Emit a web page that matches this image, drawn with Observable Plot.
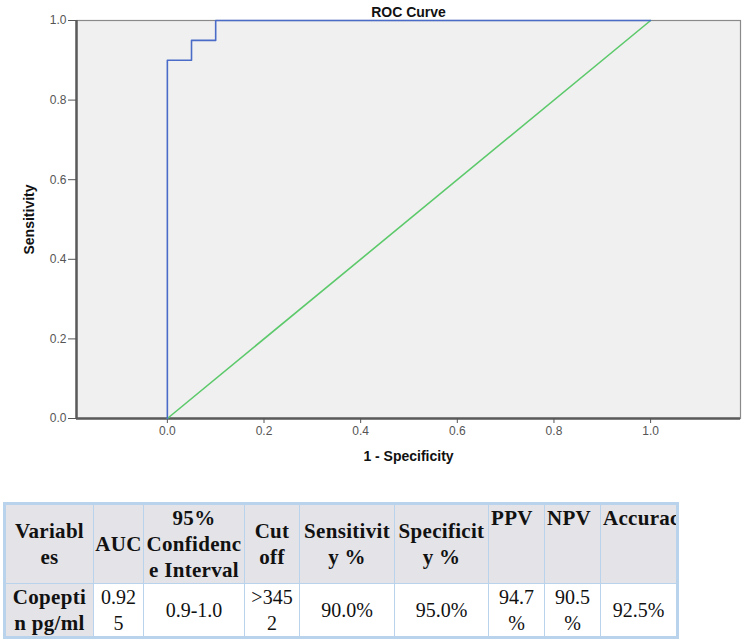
<!DOCTYPE html>
<html>
<head>
<meta charset="utf-8">
<script src="https://cdn.jsdelivr.net/npm/d3@7"></script>
<script src="https://cdn.jsdelivr.net/npm/@observablehq/plot@0.6"></script>
<style>
  body { margin: 0; background: #fff; width: 744px; }
  #chart svg { display: block; }
  table.stats {
    position: absolute; left: 3px; top: 502px; width: 674px;
    border-collapse: collapse; table-layout: fixed;
    border: 3px solid #b9d3ec;
    font-family: "Liberation Serif", "DejaVu Serif", serif;
    font-size: 20px; line-height: 26px; color: #111;
  }
  table.stats td {
    border: 1.5px solid #b9d3ec; padding: 0 1px;
    text-align: center; vertical-align: middle;
    overflow: hidden; white-space: nowrap;
  }
  table.stats tr.head td { background: #e3e3e8; font-weight: bold; height: 78px; font-size: 21px; letter-spacing: 0.3px; }
  table.stats tr.head td.top { vertical-align: top; text-align: left; padding-left: 2px; }
  table.stats tr.body td { background: #fff; height: 52px; }
  table.stats tr.body td.name { background: #e3e3e8; font-weight: bold; font-size: 21px; letter-spacing: 0.3px; }
</style>
</head>
<body>
<div id="chart"></div>
<script>
// ROC curve points (1 - specificity, sensitivity)
const fpr = [0, 0, 0.05, 0.05, 0.1, 0.1, 1.0];
const tpr = [0, 0.9, 0.9, 0.95, 0.95, 1.0, 1.0];
// Reference (chance) line
const refX = [0, 1];
const refY = [0, 1];
const xTicks = [0, 0.2, 0.4, 0.6, 0.8, 1.0];
const yTicks = [0, 0.2, 0.4, 0.6, 0.8, 1.0];

// Summary table
const headers = [
  ["Variabl", "es"], ["AUC"], ["95%", "Confidenc", "e Interval"], ["Cut", "off"],
  ["Sensitivit", "y %"], ["Specificit", "y %"], ["PPV"], ["NPV"], ["Accuracy"]
];
const topAligned = ["PPV", "NPV", "Accuracy"];
const row = [
  ["Copepti", "n pg/ml"], ["0.92", "5"], ["0.9-1.0"], [">345", "2"],
  ["90.0%"], ["95.0%"], ["94.7", "%"], ["90.5", "%"], ["92.5%"]
];
const colWidths = [89, 50, 101, 55, 95, 94, 56, 56, 77];

const xMin = -0.188, xMax = 1.186;
const curve = fpr.map((x, i) => ({x, y: tpr[i]}));
const diag = refX.map((x, i) => ({x, y: refY[i]}));

const plot = Plot.plot({
  width: 744,
  height: 480,
  marginLeft: 76,
  marginRight: 4,
  marginTop: 20,
  marginBottom: 62,
  style: {fontFamily: "'Liberation Sans', Arial, sans-serif", fontSize: "12px", color: "#333", background: "#fff"},
  x: {domain: [xMin, xMax]},
  y: {domain: [0, 1]},
  marks: [
    Plot.frame({fill: "#f0f0f0", stroke: "#8a8a8a", strokeWidth: 1.2}),
    Plot.ruleX([xMin], {stroke: "#5a5a5a", strokeWidth: 2.5}),
    Plot.ruleY([0], {stroke: "#5a5a5a", strokeWidth: 2.5}),
    Plot.axisX({ticks: xTicks, tickFormat: d3.format(".1f"), tickSize: 5, tickPadding: 3,
      label: "1 - Specificity", labelArrow: false, labelAnchor: "center", labelOffset: 42, stroke: "#555", fill: "#555"}),
    Plot.axisY({ticks: yTicks, tickFormat: d3.format(".1f"), tickSize: 8, tickPadding: 2,
      label: "Sensitivity", labelArrow: false, labelAnchor: "center", labelOffset: 52, stroke: "#555", fill: "#555"}),
    Plot.line(diag, {x: "x", y: "y", stroke: "#5cc96b", strokeWidth: 1.6}),
    Plot.line(curve, {x: "x", y: "y", stroke: "#4a6cc8", strokeWidth: 1.6}),
    Plot.text(["ROC Curve"], {frameAnchor: "top", dy: -13, fontWeight: "bold", fontSize: 14, fill: "#111",
      fontFamily: "'Liberation Sans', Arial, sans-serif"})
  ]
});

// Bold axis titles, without direction arrows
plot.querySelectorAll("[aria-label='x-axis label'] text, [aria-label='y-axis label'] text").forEach(t => {
  t.textContent = t.textContent.replace(/[\u2190-\u2193]/g, "").trim();
  t.setAttribute("font-weight", "bold");
  t.setAttribute("font-size", "14");
  t.setAttribute("fill", "#111");
});
document.getElementById("chart").append(plot);

// Build the table
const table = document.createElement("table");
table.className = "stats";
const cg = document.createElement("colgroup");
colWidths.forEach(w => { const c = document.createElement("col"); c.style.width = w + "px"; cg.append(c); });
table.append(cg);
const hr = document.createElement("tr"); hr.className = "head";
headers.forEach(lines => {
  const td = document.createElement("td");
  if (topAligned.includes(lines[0])) td.className = "top";
  td.innerHTML = lines.join("<br>");
  hr.append(td);
});
const br = document.createElement("tr"); br.className = "body";
row.forEach((lines, i) => {
  const td = document.createElement("td");
  if (i === 0) td.className = "name";
  td.innerHTML = lines.join("<br>");
  br.append(td);
});
table.append(hr, br);
document.body.append(table);
</script>
</body>
</html>
